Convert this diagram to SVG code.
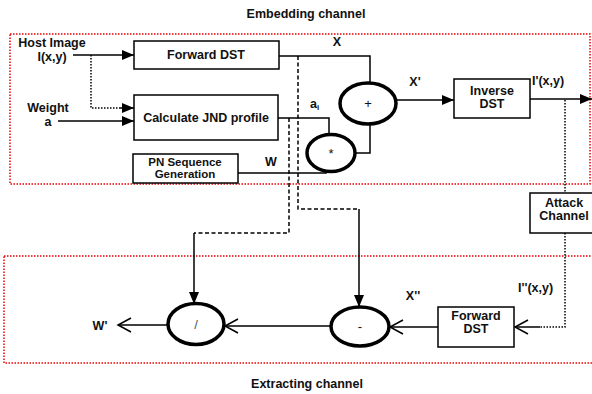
<svg xmlns="http://www.w3.org/2000/svg" width="592" height="394" viewBox="0 0 592 394">
<style>
text{font-family:"Liberation Sans",Arial,sans-serif;font-size:12.5px;font-weight:bold;fill:#111;}
.box{fill:#fff;stroke:#000;stroke-width:1.5;}
.op{fill:#fff;stroke:#000;stroke-width:3.5;}
.ln{fill:none;stroke:#000;stroke-width:1.5;}
.dot{fill:none;stroke:#000;stroke-width:1.5;stroke-dasharray:1.5 1.5;}
.dash{fill:none;stroke:#000;stroke-width:1.5;stroke-dasharray:4 2.5;}
.zone{fill:none;stroke:#e00;stroke-width:1.5;stroke-dasharray:1.5 1.5;}
.sym{font-weight:normal;font-size:13px;}
.sm{font-size:11.5px;}
</style>
<defs>
<marker id="fa" markerUnits="userSpaceOnUse" markerWidth="14" markerHeight="12" refX="12" refY="6" orient="auto">
<path d="M0,1 L12,6 L0,11 Z" fill="#000"/>
</marker>
<marker id="oa" markerUnits="userSpaceOnUse" markerWidth="16" markerHeight="16" refX="14" refY="8" orient="auto" overflow="visible">
<path d="M1,1 L14,8 L1,15" fill="none" stroke="#000" stroke-width="1.5"/>
</marker>
</defs>

<text x="306" y="18" text-anchor="middle">Embedding channel</text>
<text x="307" y="388" text-anchor="middle">Extracting channel</text>
<rect class="zone" x="10" y="34" width="580" height="150"/>
<rect class="zone" x="4" y="256" width="590" height="107"/>

<g id="connectors">
<line class="ln" x1="73" y1="55" x2="134" y2="55" marker-end="url(#fa)"/>
<polyline class="dot" points="91,55 91,108 120,108"/>
<line class="ln" x1="120" y1="108" x2="134" y2="108" marker-end="url(#fa)"/>
<line class="ln" x1="58" y1="121" x2="134" y2="121" marker-end="url(#fa)"/>
<polyline class="ln" points="279,56 370,56 370,83"/>
<polyline class="ln" points="278,118 329,118 329,134"/>
<polyline class="ln" points="238,173 326,173 326,171"/>
<polyline class="ln" points="355,153 370,153 370,124"/>
<line class="ln" x1="396" y1="100" x2="454" y2="100" marker-end="url(#fa)"/>
<line class="ln" x1="530" y1="99" x2="592" y2="99" marker-end="url(#fa)"/>
<line class="dot" x1="565" y1="100" x2="565" y2="193"/>
<polyline class="dot" points="565,233 565,327 540,327"/>
<line class="ln" x1="540" y1="327" x2="515" y2="327" marker-end="url(#oa)"/>
<line class="ln" x1="438" y1="327" x2="390" y2="327" marker-end="url(#oa)"/>
<line class="ln" x1="331" y1="326" x2="225" y2="326" marker-end="url(#oa)"/>
<line class="ln" x1="168" y1="325" x2="118" y2="325" marker-end="url(#oa)"/>
<polyline class="dash" points="298,56 298,209 359,209"/>
<line class="ln" x1="359" y1="209" x2="359" y2="307" marker-end="url(#fa)"/>
<polyline class="dash" points="289,118 289,233 194,233"/>
<line class="ln" x1="194" y1="233" x2="194" y2="304" marker-end="url(#fa)"/>
</g>

<g id="labels">
<text x="52" y="47" text-anchor="middle">Host Image</text>
<text x="52" y="61" text-anchor="middle">I(x,y)</text>
<text x="48" y="112" text-anchor="middle">Weight</text>
<text x="48" y="126" text-anchor="middle">a</text>
<text x="337" y="46" text-anchor="middle">X</text>
<text x="310" y="108">a<tspan font-size="8" dy="2">i</tspan></text>
<text x="271" y="166" text-anchor="middle">W</text>
<text x="415" y="86" text-anchor="middle">X'</text>
<text x="532" y="85">I'(x,y)</text>
<text x="518" y="292">I''(x,y)</text>
<text x="413" y="300" text-anchor="middle">X''</text>
<text x="100" y="330" text-anchor="middle">W'</text>
</g>

<g id="forward-dst">
<rect class="box" x="134" y="41" width="145" height="28"/>
<text x="206" y="59" text-anchor="middle">Forward DST</text>
</g>
<g id="jnd">
<rect class="box" x="134" y="95" width="144" height="45"/>
<text x="206" y="122" text-anchor="middle">Calculate JND profile</text>
</g>
<g id="pn">
<rect class="box" x="133" y="154" width="105" height="29"/>
<text class="sm" x="185" y="166" text-anchor="middle">PN Sequence</text>
<text class="sm" x="185" y="178" text-anchor="middle">Generation</text>
</g>
<g id="plus">
<ellipse class="op" cx="368" cy="103.5" rx="28" ry="20.5"/>
<text class="sym" x="368" y="108" text-anchor="middle">+</text>
</g>
<g id="mult">
<ellipse class="op" cx="331" cy="153" rx="24" ry="18.5"/>
<text class="sym" x="331" y="158" text-anchor="middle">*</text>
</g>
<g id="inverse-dst">
<rect class="box" x="454" y="79" width="76" height="39"/>
<text x="492" y="95" text-anchor="middle">Inverse</text>
<text x="492" y="108" text-anchor="middle">DST</text>
</g>
<g id="attack">
<rect class="box" x="530" y="193" width="70" height="40"/>
<text x="564" y="207" text-anchor="middle">Attack</text>
<text x="564" y="220" text-anchor="middle">Channel</text>
</g>
<g id="forward-dst-2">
<rect class="box" x="438" y="307" width="76" height="40"/>
<text x="476" y="320" text-anchor="middle">Forward</text>
<text x="476" y="333" text-anchor="middle">DST</text>
</g>
<g id="minus">
<ellipse class="op" cx="360" cy="326.5" rx="29" ry="19.5"/>
<text class="sym" x="360" y="331" text-anchor="middle">-</text>
</g>
<g id="divide">
<ellipse class="op" cx="196" cy="324" rx="28" ry="20.5"/>
<text class="sym" x="196" y="329" text-anchor="middle" style="fill:#456">/</text>
</g>
</svg>
